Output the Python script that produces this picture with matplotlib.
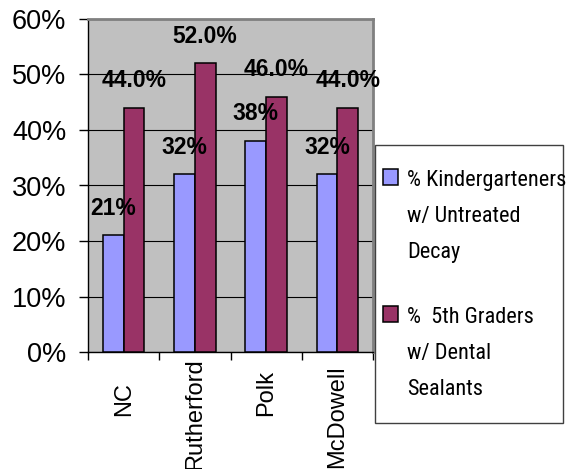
import numpy as np
import matplotlib.pyplot as plt
from matplotlib.patches import Rectangle
from matplotlib.ticker import FixedLocator, PercentFormatter

# datos
categories = ['NC', 'Rutherford', 'Polk', 'McDowell']
kinder_decay = [0.21, 0.32, 0.38, 0.32]
fifth_sealants = [0.44, 0.52, 0.46, 0.44]
kinder_labels = ['21%', '32%', '38%', '32%']
fifth_labels = ['44.0%', '52.0%', '46.0%', '44.0%']
legend_lines = [['% Kindergarteners', 'w/ Untreated', 'Decay'],
                ['%  5th Graders', 'w/ Dental', 'Sealants']]
y_ticks = [0, 0.1, 0.2, 0.3, 0.4, 0.5, 0.6]

# estilos
blue = '#9999FF'
purple = '#993366'
narrow = ['Roboto Condensed', 'Archivo Narrow', 'Liberation Sans']
label_pads = [22, 4.3, 13, 9.5]   # desplazamiento de cada etiqueta del eje x

plt.rcParams['font.family'] = ['Liberation Sans', 'DejaVu Sans']

W, H = 567, 469
fig = plt.figure(figsize=(W / 100, H / 100), dpi=100)
ax = fig.add_axes([88 / W, 1 - 352 / H, (373 - 88) / W, (352 - 19) / H])
ax.set_facecolor('#C0C0C0')

x = np.arange(len(categories))
w = 0.29
ax.bar(x - w / 2, kinder_decay, w, color=blue, edgecolor='black', linewidth=1.1, zorder=3)
ax.bar(x + w / 2, fifth_sealants, w, color=purple, edgecolor='black', linewidth=1.1, zorder=3)

# etiquetas de datos
for xi, v, t in zip(x - w / 2, kinder_decay, kinder_labels):
    ax.annotate(t, (xi, v), xytext=(0, 15), textcoords='offset points',
                ha='center', va='baseline', fontsize=16.5, fontweight='bold', zorder=5)
for xi, v, t in zip(x + w / 2, fifth_sealants, fifth_labels):
    ax.annotate(t, (xi, v), xytext=(0, 15), textcoords='offset points',
                ha='center', va='baseline', fontsize=16.5, fontweight='bold', zorder=5)

ax.set_xlim(-0.5, len(categories) - 0.5)
ax.set_ylim(0, 0.6)
ax.yaxis.set_major_locator(FixedLocator(y_ticks))
ax.yaxis.set_major_formatter(PercentFormatter(1.0, decimals=0))
ax.tick_params(axis='y', length=6.5, width=1, pad=9, labelsize=19.5, color='black')
ax.yaxis.grid(True, color='black', linewidth=0.8)
ax.set_axisbelow(True)

ax.set_xticks(x)
ax.set_xticklabels(categories, rotation=90, fontsize=17, va='top')
ax.set_xticks(np.arange(len(categories) + 1) - 0.5, minor=True)
ax.tick_params(axis='x', which='major', length=0)
ax.tick_params(axis='x', which='minor', length=5.8, width=1, color='black')
for tick, p in zip(ax.xaxis.get_major_ticks(), label_pads):
    tick.set_pad(p)

for s in ['left', 'bottom']:
    ax.spines[s].set_color('black')
    ax.spines[s].set_linewidth(1)
for s in ['top', 'right']:
    ax.spines[s].set_color('#808080')
    ax.spines[s].set_linewidth(2)


# leyenda dibujada a mano (el cuadro va alineado con la primera linea)
def px(xp, yp):
    return xp / W, 1 - yp / H


x0, y0 = px(375, 423)
fig.add_artist(Rectangle((x0, y0), (563 - 375) / W, (423 - 145) / H,
                         transform=fig.transFigure, facecolor='white',
                         edgecolor='#404040', linewidth=1))
entry_tops = [186, 323]
for lines, col, top in zip(legend_lines, [blue, purple], entry_tops):
    mx, my = px(383, top - 1)
    fig.add_artist(Rectangle((mx, my), 15 / W, 16 / H, transform=fig.transFigure,
                             facecolor=col, edgecolor='black', linewidth=1.1))
    for k, line in enumerate(lines):
        tx, ty = px(407, top + 36 * k)
        fig.text(tx, ty, line, fontsize=16, family=narrow, va='baseline', ha='left')

fig.savefig('out.png', dpi=100)
